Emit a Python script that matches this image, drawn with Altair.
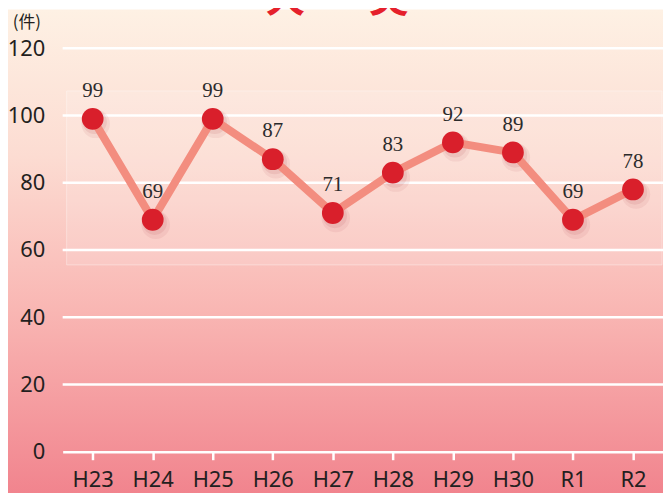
import altair as alt
import pandas as pd

# ---- data ----
years = ["H23", "H24", "H25", "H26", "H27", "H28", "H29", "H30", "R1", "R2"]
counts = [99, 69, 99, 87, 71, 83, 92, 89, 69, 78]
y_ticks = [0, 20, 40, 60, 80, 100, 120]
grid_values = [20, 40, 60, 80, 100, 120]
title_chars = ["火", "災"]
unit_label = "(件)"

W, H = 604, 406
PAD_L, PAD_T, PAD_R, PAD_B = 55, 39, 0, 40

df = pd.DataFrame({"year": years, "count": counts})
grid_df = pd.DataFrame({"count": grid_values})
one = pd.DataFrame({"k": [0]})

x_enc = alt.X(
    "year:N",
    sort=years,
    scale=alt.Scale(domain=years, paddingInner=0, paddingOuter=0),
    axis=alt.Axis(
        title=None, labelAngle=0, bandPosition=0,
        domainColor="white", domainWidth=2.5, tickColor="white", tickWidth=2.5,
        tickSize=8, labelPadding=10, labelFont="Noto Sans", labelFontSize=22,
        labelColor="#231f20", grid=False, zindex=1,
    ),
)
y_scale = alt.Scale(domain=[0, 120], nice=False)
y_axis = alt.Axis(
    title=None, values=y_ticks, grid=False, domain=False, ticks=False,
    tickSize=0, labelPadding=18, labelFont="Noto Sans", labelFontSize=22,
    labelColor="#231f20", zindex=1,
)
y_enc = alt.Y("count:Q", scale=y_scale, axis=y_axis)

bg = alt.Chart(one).mark_rect(
    color=alt.Gradient(
        gradient="linear",
        stops=[
            alt.GradientStop(color="#fef1e4", offset=0),
            alt.GradientStop(color="#fcdcd2", offset=0.3),
            alt.GradientStop(color="#f9b6b3", offset=0.62),
            alt.GradientStop(color="#f1838d", offset=1),
        ],
        x1=0, x2=0, y1=0, y2=1,
    )
).encode(
    x=alt.value(-PAD_L), x2=alt.value(W + 20),
    y=alt.value(-PAD_T), y2=alt.value(H + PAD_B + 5),
)

box = alt.Chart(one).mark_rect(
    fill="white", fillOpacity=0.13, stroke="white", strokeOpacity=0.35, strokeWidth=1
).encode(x=alt.value(4), x2=alt.value(603), y=alt.value(43), y2=alt.value(218))

grid = alt.Chart(grid_df).mark_rule(color="white", strokeWidth=2.5).encode(y=y_enc)

base = alt.Chart(df).encode(x=x_enc, y=y_enc)

shadow = base.mark_circle(size=820, color="#a8303c", opacity=0.08, xOffset=3, yOffset=5)
shadow2 = base.mark_circle(size=600, color="#a8303c", opacity=0.10, xOffset=2, yOffset=3)
line = base.mark_line(color="#f38d7f", strokeWidth=8)
points = base.mark_circle(size=480, color="#d91f2b", opacity=1)
labels = base.mark_text(
    dy=-22, baseline="alphabetic", font="Liberation Serif", fontSize=21, color="#2b2b2b"
).encode(text="count:Q")

t1 = alt.Chart(one).mark_text(
    text=title_chars[0], font="Noto Sans CJK JP", fontSize=40, fontWeight="bold",
    color="#e5202b", baseline="alphabetic", align="center",
).encode(x=alt.value(224), y=alt.value(-36))
t2 = alt.Chart(one).mark_text(
    text=title_chars[1], font="Noto Sans CJK JP", fontSize=40, fontWeight="bold",
    color="#e5202b", baseline="alphabetic", align="center",
).encode(x=alt.value(328), y=alt.value(-36))
unit = alt.Chart(one).mark_text(
    text=unit_label, font="Noto Sans CJK JP", fontSize=17, color="#231f20",
    baseline="middle", align="center",
).encode(x=alt.value(-36), y=alt.value(-25))

chart = alt.layer(
    bg, box, grid, shadow, shadow2, line, points, labels, t1, t2, unit
).properties(
    width=W, height=H,
    autosize=alt.AutoSizeParams(type="none"),
    padding={"left": PAD_L, "top": PAD_T, "right": PAD_R, "bottom": PAD_B},
).configure_view(stroke=None)

chart.save("out.html", embed_options={"renderer": "svg", "actions": False})
